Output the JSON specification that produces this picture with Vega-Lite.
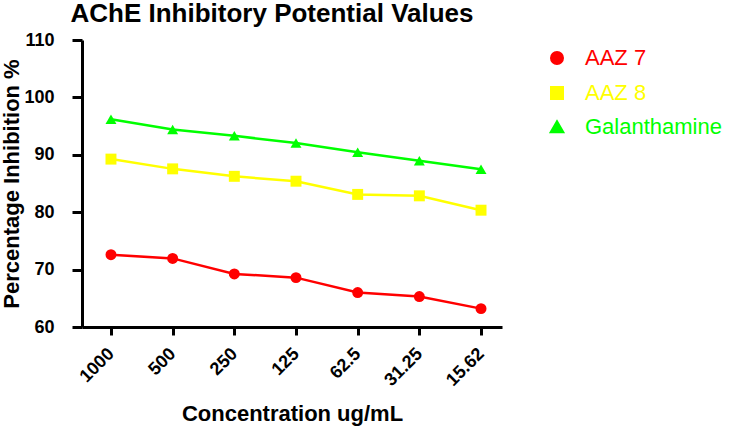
{
  "$schema": "https://vega.github.io/schema/vega-lite/v6.json",
  "autosize": "none",
  "width": 420,
  "height": 287,
  "padding": {"left": 82, "top": 40, "right": 233, "bottom": 103},
  "background": "white",
  "title": {
    "text": "AChE Inhibitory Potential Values",
    "font": "Liberation Sans",
    "fontSize": 26,
    "fontWeight": "bold",
    "color": "black",
    "anchor": "middle",
    "dx": -20,
    "offset": 4
  },
  "config": {
    "view": {"stroke": null},
    "font": "Liberation Sans"
  },
  "data": {
    "values": [
      {"conc": "1000", "series": "AAZ 7", "value": 72.6},
      {"conc": "500", "series": "AAZ 7", "value": 71.95},
      {"conc": "250", "series": "AAZ 7", "value": 69.25},
      {"conc": "125", "series": "AAZ 7", "value": 68.6},
      {"conc": "62.5", "series": "AAZ 7", "value": 66.0},
      {"conc": "31.25", "series": "AAZ 7", "value": 65.3},
      {"conc": "15.62", "series": "AAZ 7", "value": 63.2},
      {"conc": "1000", "series": "AAZ 8", "value": 89.25},
      {"conc": "500", "series": "AAZ 8", "value": 87.55},
      {"conc": "250", "series": "AAZ 8", "value": 86.25},
      {"conc": "125", "series": "AAZ 8", "value": 85.4},
      {"conc": "62.5", "series": "AAZ 8", "value": 83.1},
      {"conc": "31.25", "series": "AAZ 8", "value": 82.85},
      {"conc": "15.62", "series": "AAZ 8", "value": 80.35},
      {"conc": "1000", "series": "Galanthamine", "value": 96.2},
      {"conc": "500", "series": "Galanthamine", "value": 94.4},
      {"conc": "250", "series": "Galanthamine", "value": 93.3},
      {"conc": "125", "series": "Galanthamine", "value": 92.05},
      {"conc": "62.5", "series": "Galanthamine", "value": 90.45},
      {"conc": "31.25", "series": "Galanthamine", "value": 88.95},
      {"conc": "15.62", "series": "Galanthamine", "value": 87.5}
    ]
  },
  "encoding": {
    "x": {
      "field": "conc",
      "type": "ordinal",
      "sort": ["1000", "500", "250", "125", "62.5", "31.25", "15.62"],
      "scale": {"type": "point", "padding": 0.405, "align": 0.58},
      "axis": {
        "title": "Concentration ug/mL",
        "titleFont": "Liberation Sans",
        "titleFontSize": 22,
        "titleFontWeight": "bold",
        "titleColor": "black",
        "titlePadding": 14,
        "labelAngle": -45,
        "labelAlign": "right",
        "labelBaseline": "middle",
        "labelFont": "Liberation Sans",
        "labelFontSize": 18,
        "labelFontWeight": "bold",
        "labelColor": "black",
        "labelPadding": 16,
        "domainColor": "black",
        "domainWidth": 3,
        "tickColor": "black",
        "tickWidth": 3,
        "tickSize": 8,
        "grid": false
      }
    },
    "y": {
      "field": "value",
      "type": "quantitative",
      "scale": {"domain": [60, 110], "nice": false, "zero": false},
      "axis": {
        "title": "Percentage Inhibition %",
        "titleFont": "Liberation Sans",
        "titleFontSize": 22,
        "titleFontWeight": "bold",
        "titleColor": "black",
        "titlePadding": 0,
        "values": [60, 70, 80, 90, 100, 110],
        "labelFont": "Liberation Sans",
        "labelFontSize": 18,
        "labelFontWeight": "bold",
        "labelColor": "black",
        "labelPadding": 18,
        "domainColor": "black",
        "domainWidth": 3,
        "tickColor": "black",
        "tickWidth": 3,
        "tickSize": 10,
        "grid": false
      }
    },
    "color": {
      "field": "series",
      "type": "nominal",
      "scale": {"domain": ["AAZ 7", "AAZ 8", "Galanthamine"], "range": ["#ff0000", "#ffff00", "#00ff00"]},
      "legend": {
        "title": null,
        "orient": "none",
        "legendX": 464,
        "legendY": 7,
        "padding": 0,
        "labelFont": "Liberation Sans",
        "labelFontSize": 22,
        "labelOffset": 17,
        "symbolSize": 121,
        "rowPadding": 11,
        "encode": {
          "labels": {"update": {"fill": {"scale": "color", "field": "value"}}},
          "symbols": {
            "update": {
              "shape": {"signal": "datum.value === 'AAZ 7' ? 'M-2.8,0L2.8,0M-0.8,0A0.8,0.8,0,1,0,0.8,0A0.8,0.8,0,1,0,-0.8,0Z' : datum.value === 'AAZ 8' ? 'M-2.8,0L2.8,0M-0.8,-0.8H0.8V0.8H-0.8Z' : 'M-2.8,0L2.8,0M0,-0.9L0.95,0.75H-0.95Z'"},
              "fill": {"scale": "color", "field": "value"},
              "stroke": {"scale": "color", "field": "value"},
              "strokeWidth": {"value": 3},
              "opacity": {"value": 1},
              "size": {"value": 121}
            }
          }
        }
      }
    }
  },
  "layer": [
    {
      "mark": {"type": "line", "strokeWidth": 2.5}
    },
    {
      "mark": {"type": "point", "filled": true, "size": 120, "opacity": 1},
      "encoding": {
        "shape": {
          "field": "series",
          "type": "nominal",
          "scale": {"domain": ["AAZ 7", "AAZ 8", "Galanthamine"], "range": ["circle", "square", "triangle-up"]},
          "legend": null
        }
      }
    }
  ]
}
